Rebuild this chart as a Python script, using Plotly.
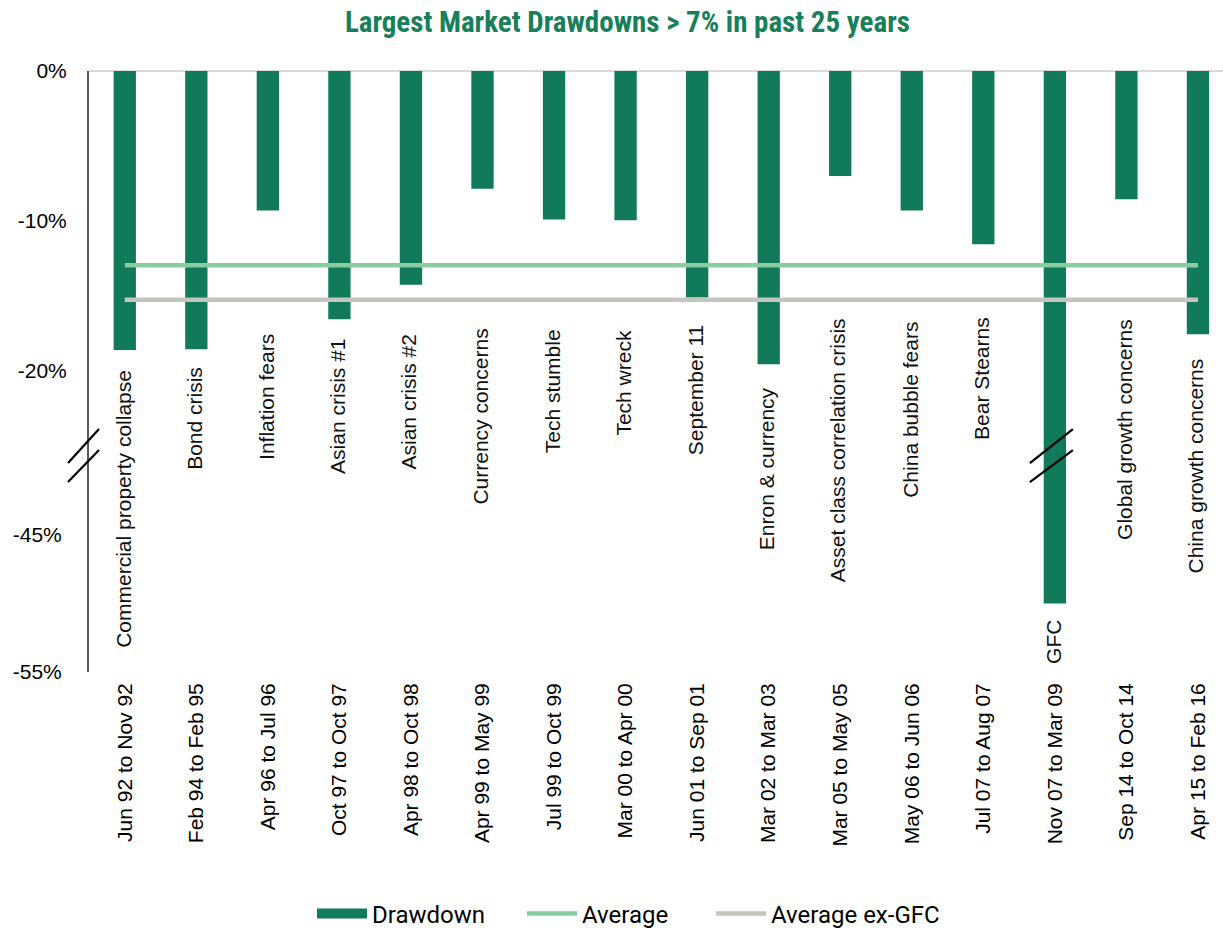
import plotly.graph_objects as go
from plotly.subplots import make_subplots

# ---------------- data ----------------
periods = ["Jun 92 to Nov 92", "Feb 94 to Feb 95", "Apr 96 to Jul 96", "Oct 97 to Oct 97",
           "Apr 98 to Oct 98", "Apr 99 to May 99", "Jul 99 to Oct 99", "Mar 00 to Apr 00",
           "Jun 01 to Sep 01", "Mar 02 to Mar 03", "Mar 05 to May 05", "May 06 to Jun 06",
           "Jul 07 to Aug 07", "Nov 07 to Mar 09", "Sep 14 to Oct 14", "Apr 15 to Feb 16"]
events = ["Commercial property collapse", "Bond crisis", "Inflation fears", "Asian crisis #1",
          "Asian crisis #2", "Currency concerns", "Tech stumble", "Tech wreck", "September 11",
          "Enron & currency", "Asset class correlation crisis", "China bubble fears",
          "Bear Stearns", "GFC", "Global growth concerns", "China growth concerns"]
drawdown = [-18.6, -18.55, -9.3, -16.55, -14.25, -7.85, -9.9, -9.95, -15.1, -19.55,
            -7.0, -9.3, -11.55, -50.0, -8.55, -17.55]
average = -12.95
average_ex_gfc = -15.25
ytick_top = [0, -10, -20]
ytick_top_text = ["0%", "-10%", "-20%"]
ytick_bottom = [-45, -55]
ytick_bottom_text = ["-45%", "-55%"]

# ---------------- styling / positions ----------------
BAR = "#107A5A"
AVG = "#88CC9F"
EXG = "#C4C5BC"
TITLE_GREEN = "#17805B"
FONT = "Liberation Sans, Arial, sans-serif"
NARROW = "Liberation Sans Narrow, Roboto Condensed, Roboto, sans-serif"
LEGFONT = "Roboto, Liberation Sans, sans-serif"
# top of each rotated event label (in % on the axis segment it sits on)
label_top = [-19.8, -19.6, -17.4, -17.73, -17.4, -17.07, -17.07, -17.13, -16.8, -20.93,
             -16.33, -16.6, -16.27, -51.06, -16.4, -19.0]
legend_x_px = [312, 522, 711]

top_frac = 0.639
fig = make_subplots(rows=2, cols=1, shared_xaxes=True, vertical_spacing=0,
                    row_heights=[top_frac, 1 - top_frac])

for r in (1, 2):
    fig.add_trace(go.Bar(x=periods, y=drawdown, name="Drawdown", marker_color=BAR,
                         marker_line_width=0, width=0.312, showlegend=False,
                         hoverinfo="x+y"), row=r, col=1)

# legend-only entry for the bars (wide swatch like reference)
fig.add_trace(go.Scatter(x=[None], y=[None], mode="lines", name="Drawdown", legend="legend",
                         line=dict(color=BAR, width=11)), row=1, col=1)
fig.add_trace(go.Scatter(x=periods, y=[average] * len(periods), mode="lines", name="Average",
                         legend="legend2", line=dict(color=AVG, width=4.5)), row=1, col=1)
fig.add_trace(go.Scatter(x=periods, y=[average_ex_gfc] * len(periods), mode="lines",
                         name="Average ex-GFC", legend="legend3",
                         line=dict(color=EXG, width=4.5)), row=1, col=1)

# event labels
for i, (ev, pos) in enumerate(zip(events, label_top)):
    yref = "y2" if pos < -30 else "y"
    fig.add_annotation(x=i, y=pos, xref="x", yref=yref, text=ev, textangle=-90,
                       showarrow=False, xanchor="center", yanchor="top", xshift=-2,
                       font=dict(family=FONT, size=21, color="#111111"))

# axis break marks
breaks = [dict(xref="paper", xa=0, x0=-21, x1=10),
          dict(xref="x", xa=13, x0=-25, x1=18)]
for b in breaks:
    for (y0, y1) in [(-8, 26), (-27, 5)]:
        fig.add_shape(type="line", xref=b["xref"], xsizemode="pixel", xanchor=b["xa"],
                      x0=b["x0"], x1=b["x1"], yref="paper", ysizemode="pixel",
                      yanchor=1 - top_frac, y0=y0, y1=y1,
                      line=dict(color="#000000", width=2.2))

fig.update_xaxes(range=[-0.5, 15.35], showgrid=False, zeroline=False, showline=False,
                 ticks="", fixedrange=True)
fig.update_xaxes(showticklabels=False, row=1, col=1)
fig.update_xaxes(tickangle=-90, tickfont=dict(family=FONT, size=21, color="#000000"),
                 ticklabelstandoff=6, row=2, col=1)

fig.update_yaxes(range=[-25.6, 0], tickvals=ytick_top, ticktext=ytick_top_text,
                 showgrid=False, zeroline=True, zerolinecolor="#D9D9D9", zerolinewidth=2,
                 showline=True, linecolor="#595959", linewidth=2, ticks="",
                 ticklabelstandoff=16, tickfont=dict(family=FONT, size=21, color="#000000"),
                 row=1, col=1)
fig.update_yaxes(range=[-55, -39.16], tickvals=ytick_bottom, ticktext=ytick_bottom_text,
                 showgrid=False, zeroline=False, showline=True, linecolor="#595959",
                 linewidth=2, ticks="", ticklabelstandoff=21,
                 tickfont=dict(family=FONT, size=21, color="#000000"), row=2, col=1)


def legend_style(xpx):
    return dict(orientation="h", xref="container", yref="container", x=xpx / 1223,
                y=1 - 914 / 931, xanchor="left", yanchor="middle", itemwidth=50,
                font=dict(family=LEGFONT, size=24, color="#000000"),
                bgcolor="rgba(0,0,0,0)")


fig.update_layout(
    width=1223, height=931,
    margin=dict(l=89, r=0, t=71, b=259),
    paper_bgcolor="white", plot_bgcolor="white",
    bargap=0.688,
    title=dict(text="<b>Largest Market Drawdowns > 7% in past 25 years</b>",
               x=0.513, xref="container", xanchor="center",
               y=1 - 22 / 931, yref="container", yanchor="middle",
               font=dict(family=NARROW, size=29, color=TITLE_GREEN)),
    legend=legend_style(legend_x_px[0]),
    legend2=legend_style(legend_x_px[1]),
    legend3=legend_style(legend_x_px[2]),
    showlegend=True,
)

fig.write_html("out.html", config={"displayModeBar": False},
               post_script="document.body.style.margin='0';")
